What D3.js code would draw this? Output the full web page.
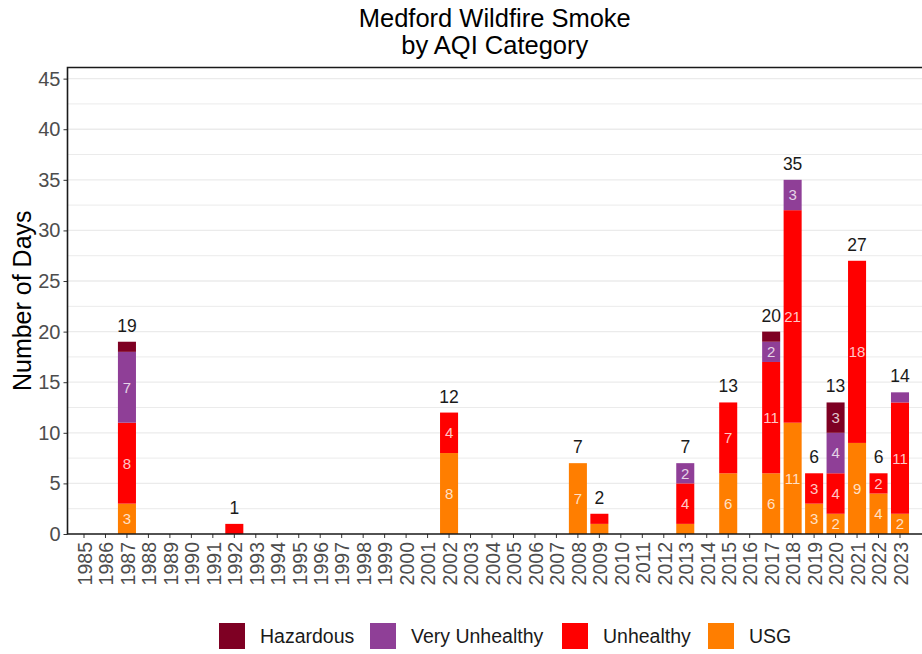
<!DOCTYPE html>
<html>
<head>
<meta charset="utf-8">
<script src="https://cdn.jsdelivr.net/npm/d3@7"></script>
<style>
  body { margin: 0; background: #fff; }
  svg { display: block; font-family: "Liberation Sans", Arial, sans-serif; }
</style>
</head>
<body>
<svg id="chart" width="922" height="654"></svg>
<script>
// ─── Data ────────────────────────────────────────────────
const years = d3.range(1985, 2024).map(String);
const categories = ['USG', 'Unhealthy', 'Very Unhealthy', 'Hazardous'];
const legendOrder = ['Hazardous', 'Very Unhealthy', 'Unhealthy', 'USG'];
const colors = ['#ff7e00', '#ff0000', '#8f3f97', '#7e0023'];

const smokeYears = ['1987', '1992', '2002', '2008', '2009', '2013', '2015', '2017', '2018', '2019', '2020', '2021', '2022', '2023'];
const usg        = [3, 0, 8, 7, 1, 1, 6, 6, 11, 3, 2, 9, 4, 2];
const unhealthy  = [8, 1, 4, 0, 1, 4, 7, 11, 21, 3, 4, 18, 2, 11];
const veryUnh    = [7, 0, 0, 0, 0, 2, 0, 2, 3, 0, 4, 0, 0, 1];
const hazardous  = [1, 0, 0, 0, 0, 0, 0, 1, 0, 0, 3, 0, 0, 0];

const yTicks = d3.range(0, 50, 5);

// ─── Layout ──────────────────────────────────────────────
const svg = d3.select('#chart');
const pLeft = 67.5, pRight = 922, pTop = 67.5, pBottom = 534;
const step = (900 - 84) / 38;

const x = d3.scaleBand()
  .domain(years)
  .range([84 - step / 2, 900 + step / 2])
  .paddingInner(0.16)
  .paddingOuter(0.08);

const y = d3.scaleLinear().domain([0, 46.1]).range([pBottom, pTop]);
const color = d3.scaleOrdinal().domain(categories).range(colors);

const rows = smokeYears.map((yr, i) => ({
  year: yr,
  'USG': usg[i],
  'Unhealthy': unhealthy[i],
  'Very Unhealthy': veryUnh[i],
  'Hazardous': hazardous[i],
}));
const stacked = d3.stack().keys(categories)(rows);

// ─── Grid ────────────────────────────────────────────────
const grid = svg.append('g');
const minor = d3.range(2.5, 46, 5);
grid.selectAll('line.minor').data(minor).join('line')
  .attr('x1', pLeft).attr('x2', pRight)
  .attr('y1', d => y(d)).attr('y2', d => y(d))
  .attr('stroke', '#ebebeb').attr('stroke-width', 1);
grid.selectAll('line.major').data(yTicks.slice(1)).join('line')
  .attr('x1', pLeft).attr('x2', pRight)
  .attr('y1', d => y(d)).attr('y2', d => y(d))
  .attr('stroke', '#ebebeb').attr('stroke-width', 1.3);

// ─── Bars ────────────────────────────────────────────────
const layers = svg.append('g').selectAll('g').data(stacked).join('g')
  .attr('fill', d => color(d.key));

layers.selectAll('rect').data(d => d.filter(s => s[1] > s[0])).join('rect')
  .attr('x', d => x(d.data.year))
  .attr('width', x.bandwidth())
  .attr('y', d => y(d[1]))
  .attr('height', d => y(d[0]) - y(d[1]));

// segment labels (hidden for 1-day segments)
const segs = svg.append('g')
  .attr('font-size', 15).attr('fill', '#fff').attr('fill-opacity', 0.78)
  .attr('text-anchor', 'middle');
stacked.forEach(layer => {
  segs.selectAll(null).data(layer.filter(s => s[1] - s[0] >= 2)).join('text')
    .attr('x', d => x(d.data.year) + x.bandwidth() / 2)
    .attr('y', d => y((d[0] + d[1]) / 2))
    .attr('dy', '0.36em')
    .text(d => d[1] - d[0]);
});

// totals above bars
svg.append('g')
  .attr('font-size', 17.5).attr('fill', '#1a1a1a').attr('text-anchor', 'middle')
  .selectAll('text').data(rows).join('text')
  .attr('x', d => x(d.year) + x.bandwidth() / 2)
  .attr('y', d => y(d3.sum(categories, k => d[k])) - 10)
  .text(d => d3.sum(categories, k => d[k]));

// ─── Axes ────────────────────────────────────────────────
const yAxis = svg.append('g')
  .attr('transform', `translate(${pLeft},0)`)
  .call(d3.axisLeft(y).tickValues(yTicks).tickSize(4).tickPadding(3));
yAxis.select('.domain').remove();
yAxis.selectAll('text').attr('font-size', 20).attr('fill', '#4d4d4d')
  .attr('font-family', '"Liberation Sans", Arial, sans-serif');
yAxis.selectAll('line').attr('stroke', '#333');

const xAxis = svg.append('g')
  .attr('transform', `translate(0,${pBottom})`)
  .call(d3.axisBottom(x).tickSize(4).tickSizeOuter(0));
xAxis.select('.domain').remove();
xAxis.selectAll('line').attr('stroke', '#333');
xAxis.selectAll('text')
  .attr('font-size', 19.5).attr('fill', '#4d4d4d')
  .attr('font-family', '"Liberation Sans", Arial, sans-serif')
  .attr('text-anchor', 'end')
  .attr('transform', 'rotate(-90)')
  .attr('x', -8).attr('y', 0).attr('dy', '0.4em');

// panel border lines: left, bottom, top
svg.append('path')
  .attr('d', `M${pRight},${pTop}H${pLeft}V${pBottom}H${pRight}`)
  .attr('fill', 'none').attr('stroke', '#1a1a1a').attr('stroke-width', 1.6);

// ─── Titles ──────────────────────────────────────────────
const title = svg.append('text')
  .attr('x', (pLeft + pRight) / 2).attr('text-anchor', 'middle')
  .attr('font-size', 25.5).attr('fill', '#000');
title.append('tspan').attr('x', (pLeft + pRight) / 2).attr('y', 27).text('Medford Wildfire Smoke');
title.append('tspan').attr('x', (pLeft + pRight) / 2).attr('y', 54).text('by AQI Category');

svg.append('text')
  .attr('transform', `translate(22,${(pTop + pBottom) / 2}) rotate(-90)`)
  .attr('text-anchor', 'middle').attr('dy', '0.35em')
  .attr('font-size', 25).attr('fill', '#000')
  .text('Number of Days');

// ─── Legend ──────────────────────────────────────────────
const legendX = [219, 370, 562, 708];
const legend = svg.append('g').attr('transform', 'translate(0,623)');
const item = legend.selectAll('g').data(legendOrder).join('g')
  .attr('transform', (d, i) => `translate(${legendX[i]},0)`);
item.append('rect').attr('width', 26).attr('height', 26).attr('fill', d => color(d));
item.append('text')
  .attr('x', 41).attr('y', 13).attr('dy', '0.36em')
  .attr('font-size', 19.5).attr('fill', '#1a1a1a')
  .text(d => d);
</script>
</body>
</html>
